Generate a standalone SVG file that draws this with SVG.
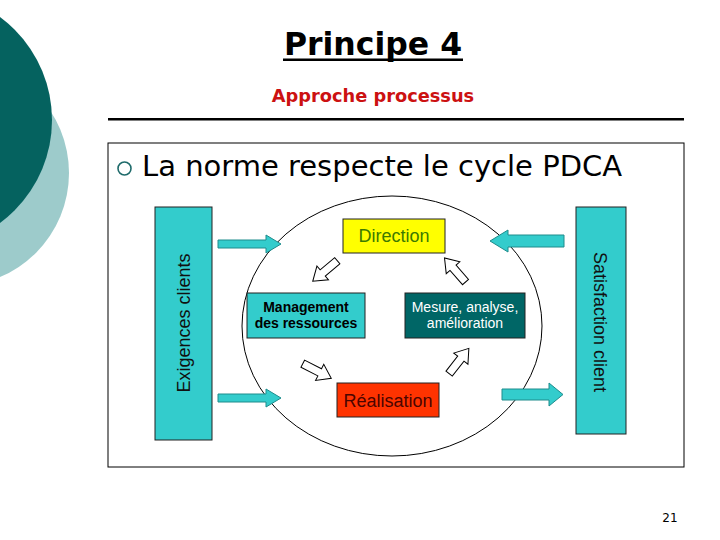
<svg xmlns="http://www.w3.org/2000/svg" width="720" height="540" viewBox="0 0 720 540">
<style>
.box{stroke:#222;stroke-width:1}
.cyan{fill:#33CCCC}
.bigarrow{fill:#33CCCC;stroke:#1E8C8C;stroke-width:1}
.small{fill:#fff;stroke:#000;stroke-width:1}
.lbl{font-family:"Liberation Sans",Arial,sans-serif}
</style>
<defs>
<path id="sa" d="M-16,-4 H3 V-9 L16,0 L3,9 V4 H-16 Z"/>
</defs>
<rect width="720" height="540" fill="#fff"/>
<g id="decor">
<circle cx="-44" cy="173" r="113" fill="#9DCBCB"/>
<circle cx="-76" cy="120" r="128" fill="#05625F"/>
</g>
<g id="title">
<text x="373" y="55" text-anchor="middle" font-family="DejaVu Sans,Verdana,sans-serif" font-weight="bold" font-size="31.5" fill="#000">Principe 4</text>
<rect x="283" y="58.5" width="180" height="2.5" fill="#000"/>
<text x="373" y="102" text-anchor="middle" font-family="DejaVu Sans,Verdana,sans-serif" font-weight="bold" font-size="17.8" fill="#CC1111">Approche processus</text>
<rect x="108" y="118" width="576" height="2.5" fill="#000"/>
</g>
<rect x="108" y="143" width="576" height="324" fill="none" stroke="#000" stroke-width="1"/>
<g id="bullet">
<circle cx="124.5" cy="168.5" r="6.5" fill="none" stroke="#1F6B6B" stroke-width="1.6"/>
<text x="142" y="176" font-family="DejaVu Sans,Verdana,sans-serif" font-size="29" fill="#000">La norme respecte le cycle PDCA</text>
</g>
<g id="cycle">
<ellipse cx="392" cy="326" rx="150" ry="130" fill="none" stroke="#000" stroke-width="1"/>
</g>
<g id="exigences">
<rect class="box cyan" x="155" y="207" width="57" height="233"/>
<text class="lbl" transform="translate(190,323) rotate(-90)" text-anchor="middle" font-size="18" fill="#111">Exigences clients</text>
</g>
<g id="satisfaction">
<rect class="box cyan" x="576" y="207" width="50" height="227"/>
<text class="lbl" transform="translate(594,322) rotate(90)" text-anchor="middle" font-size="18" fill="#111">Satisfaction client</text>
</g>
<g id="direction">
<rect class="box" x="343" y="219" width="102" height="34" fill="#FFFF00"/>
<text class="lbl" x="394" y="242" text-anchor="middle" font-size="18" fill="#3C7A00">Direction</text>
</g>
<g id="management">
<rect class="box cyan" x="247" y="293" width="118" height="45"/>
<text class="lbl" x="306" y="312" text-anchor="middle" font-size="14" font-weight="bold" fill="#000">Management</text>
<text class="lbl" x="306" y="328" text-anchor="middle" font-size="14" font-weight="bold" fill="#000">des ressources</text>
</g>
<g id="mesure">
<rect class="box" x="405" y="293" width="120" height="45" fill="#006666"/>
<text class="lbl" x="465" y="312" text-anchor="middle" font-size="14" fill="#fff">Mesure, analyse,</text>
<text class="lbl" x="465" y="328" text-anchor="middle" font-size="14" fill="#fff">amélioration</text>
</g>
<g id="realisation">
<rect class="box" x="337" y="383" width="102" height="34" fill="#FF3300"/>
<text class="lbl" x="388" y="407" text-anchor="middle" font-size="18" fill="#4A0500">Réalisation</text>
</g>
<g id="connectors">
<path class="bigarrow" d="M218,240 H266 V235 L281,244 L266,253 V248 H218 Z"/>
<path class="bigarrow" d="M218,394 H266 V389 L281,398 L266,407 V402 H218 Z"/>
<path class="bigarrow" d="M564,235 H508 V230 L490,241 L508,252 V247 H564 Z"/>
<path class="bigarrow" d="M502,389 H549 V383 L563,394.5 L549,406 V400 H502 Z"/>
<use href="#sa" class="small" transform="translate(325,271) rotate(140)"/>
<use href="#sa" class="small" transform="translate(455,270) rotate(229)"/>
<use href="#sa" class="small" transform="translate(317,371) rotate(27)"/>
<use href="#sa" class="small" transform="translate(459,361) rotate(-52)"/>
</g>
<text x="670" y="522" text-anchor="middle" font-family="DejaVu Sans,Verdana,sans-serif" font-size="12" fill="#000">21</text>
</svg>
